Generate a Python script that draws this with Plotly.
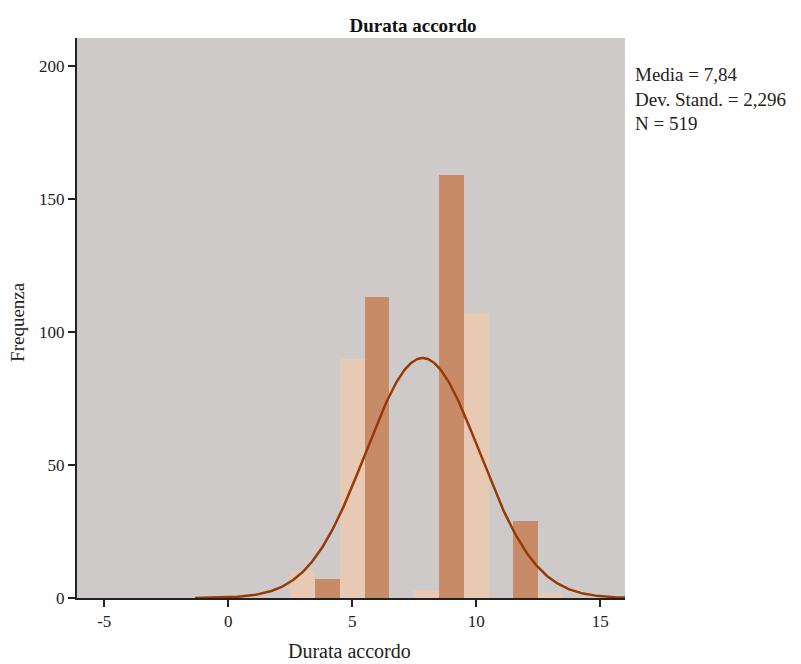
import numpy as np
import plotly.graph_objects as go

# Data
bin_centers = [3, 4, 5, 6, 7, 8, 9, 10, 11, 12, 13]
frequencies = [10, 7, 90, 113, 0, 3, 159, 107, 0, 29, 2]
bar_shades = ["light", "dark", "light", "dark", "light", "light", "dark", "light", "dark", "dark", "light"]
mean_val = 7.84
sd_val = 2.296
n_val = 519
x_ticks = [-5, 0, 5, 10, 15]
y_ticks = [0, 50, 100, 150, 200]

LIGHT = "#E8C9B3"
DARK = "#C78C67"
CURVE = "#963A05"
BG = "#CECACA"
FONT = "Liberation Serif"

colors = [LIGHT if s == "light" else DARK for s in bar_shades]

fig = go.Figure()
fig.add_trace(go.Bar(x=bin_centers, y=frequencies, width=1.0,
                     marker=dict(color=colors, line=dict(width=0)),
                     showlegend=False))

# Normal curve from reported statistics (bin width 1)
xs = np.linspace(mean_val - 4 * sd_val, mean_val + 4 * sd_val, 400)
ys = n_val * 1.0 / (sd_val * np.sqrt(2 * np.pi)) * np.exp(-0.5 * ((xs - mean_val) / sd_val) ** 2)
fig.add_trace(go.Scatter(x=xs, y=ys, mode="lines",
                         line=dict(color=CURVE, width=2.5), showlegend=False,
                         cliponaxis=True))

fig.update_layout(
    width=801, height=664,
    margin=dict(l=77, r=176, t=38, b=66, autoexpand=False),
    paper_bgcolor="white",
    plot_bgcolor=BG,
    font=dict(family=FONT, size=17, color="#222222"),
    title=dict(text="<b>Durata accordo</b>", x=413 / 801, xref="container", xanchor="center",
               y=1, yref="paper", yanchor="bottom", pad=dict(b=6),
               font=dict(family=FONT, size=19, color="#111111")),
    bargap=0,
    xaxis=dict(range=[-6.1, 16.0], tickvals=x_ticks, ticktext=[str(v) for v in x_ticks],
               showgrid=False, zeroline=False, showline=True, linecolor="#222222", linewidth=2,
               ticks="outside", ticklen=7, tickwidth=2, tickcolor="#222222",
               automargin=False, tickfont=dict(size=17)),
    yaxis=dict(range=[0, 210.5], tickvals=y_ticks, ticktext=[str(v) for v in y_ticks],
               showgrid=False, zeroline=False, showline=True, linecolor="#222222", linewidth=2,
               ticks="outside", ticklen=7, tickwidth=2, tickcolor="#222222",
               automargin=False, tickfont=dict(size=17)),
    annotations=[
        dict(text=f"Media = {str(mean_val).replace('.', ',')}<br>Dev. Stand. = {str(sd_val).replace('.', ',')}<br>N = {n_val}",
             xref="paper", yref="paper", x=1.0, y=0.957, xanchor="left", yanchor="top",
             xshift=8, align="left", showarrow=False,
             font=dict(family=FONT, size=19, color="#222222")),
        dict(text="Durata accordo", xref="paper", yref="paper", x=0.498, y=-0.094,
             xanchor="center", yanchor="middle", showarrow=False,
             font=dict(family=FONT, size=20, color="#222222")),
        dict(text="Frequenza", xref="paper", yref="paper", x=-0.1077, y=0.493,
             xanchor="center", yanchor="middle", textangle=-90, showarrow=False,
             font=dict(family=FONT, size=19, color="#222222")),
    ],
)

fig.write_html("out.html")
